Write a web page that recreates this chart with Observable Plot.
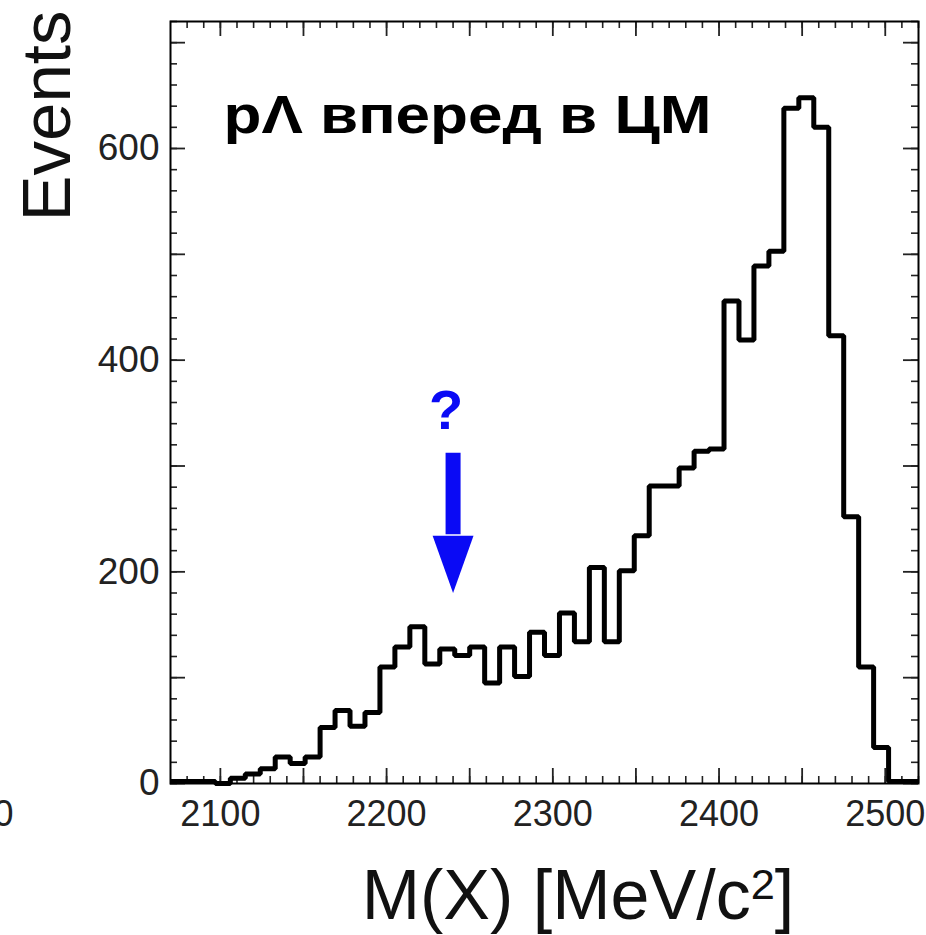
<!DOCTYPE html>
<html>
<head>
<meta charset="utf-8">
<script src="https://cdn.jsdelivr.net/npm/d3@7"></script>
<script src="https://cdn.jsdelivr.net/npm/@observablehq/plot@0.6"></script>
<style>
  html, body { margin: 0; padding: 0; background: white; }
</style>
</head>
<body>
<div id="chart"></div>
<script>
// Histogram: 50 bins of 9 MeV from 2070 to 2520 MeV/c^2
const binStart = 2070;
const binWidth = 9;
const counts = [2, 2, 2, 0, 5, 9, 14, 25, 19, 25,
                53, 69, 54, 67, 110, 129, 148, 113, 127, 121,
                129, 95, 129, 101, 143, 121, 161, 134, 204, 134,
                201, 234, 281, 281, 298, 314, 316, 456, 419, 489,
                503, 638, 648, 620, 423, 252, 110, 34, 2, 2];

// Axis ticks / labels
const xLabels = [2100, 2200, 2300, 2400, 2500];
const xMedium = [2100, 2150, 2200, 2250, 2300, 2350, 2400, 2450, 2500];
const xMinor = d3.range(2080, 2521, 10);
const yLabels = [0, 200, 400, 600];
const yMedium = [0, 100, 200, 300, 400, 500, 600, 700];
const yMinor = d3.range(0, 721, 20);

// Texts
const titleText = "pΛ вперед в ЦМ";
const yTitle = "Events";
const xTitleMain = "M(X) [MeV/c";
const xTitleSup = "2";
const xTitleEnd = "]";
const question = "?";
const strayLabel = "0";

// Annotation arrow (data units)
const arrowX = 2240;
const arrowTop = 312;
const arrowHeadBase = 234;
const arrowTip = 180;
const arrowHalfWidth = 12.3;
const questionY = 335;

const W = 926, H = 935;
const mL = 170, mR = 8, mT = 21, mB = 152;
const plotW = W - mL - mR, plotH = H - mT - mB;

const steps = counts.map((c, i) => ({x: binStart + i * binWidth, y: c}));
steps.push({x: binStart + counts.length * binWidth, y: counts[counts.length - 1]});

const headPts = [
  {x: arrowX - arrowHalfWidth, y: arrowHeadBase},
  {x: arrowX + arrowHalfWidth, y: arrowHeadBase},
  {x: arrowX, y: arrowTip}
];

const blue = "#0a0af5";
const tickColor = "#222";
const xTitleFull = xTitleMain + xTitleSup + xTitleEnd;

const plot = Plot.plot({
  width: W, height: H,
  marginLeft: mL, marginRight: mR, marginTop: mT, marginBottom: mB,
  style: {fontFamily: "Liberation Sans, Arial, sans-serif", background: "white"},
  x: {domain: [2070, 2520]},
  y: {domain: [0, 720]},
  marks: [
    // tick marks (inside, on all four sides)
    Plot.ruleX(xMinor, {insetTop: plotH - 7, stroke: tickColor, strokeWidth: 1.6}),
    Plot.ruleX(xMedium, {insetTop: plotH - 15, stroke: tickColor, strokeWidth: 1.8}),
    Plot.ruleX(xMinor, {insetBottom: plotH - 7, stroke: tickColor, strokeWidth: 1.6}),
    Plot.ruleX(xMedium, {insetBottom: plotH - 15, stroke: tickColor, strokeWidth: 1.8}),
    Plot.ruleY(yMinor, {insetRight: plotW - 7, stroke: tickColor, strokeWidth: 1.6}),
    Plot.ruleY(yMedium, {insetRight: plotW - 15, stroke: tickColor, strokeWidth: 1.8}),
    Plot.ruleY(yMinor, {insetLeft: plotW - 7, stroke: tickColor, strokeWidth: 1.6}),
    Plot.ruleY(yMedium, {insetLeft: plotW - 15, stroke: tickColor, strokeWidth: 1.8}),
    // axis labels
    Plot.axisX(xLabels, {tickSize: 0, tickPadding: 17, fontSize: 36, label: null, color: "#222",
                         tickFormat: d => String(d)}),
    Plot.axisY(yLabels, {tickSize: 0, tickPadding: 11, fontSize: 37, label: null, color: "#222",
                         tickFormat: d => String(d)}),
    // histogram outline
    Plot.line(steps, {x: "x", y: "y", curve: "step-after", stroke: "black", strokeWidth: 5,
                      strokeLinejoin: "miter", strokeLinecap: "butt"}),
    Plot.frame({stroke: "black", strokeWidth: 2}),
    // arrow
    Plot.ruleX([arrowX], {y1: arrowTop, y2: arrowHeadBase + 1, stroke: blue, strokeWidth: 15}),
    Plot.line(headPts, {x: "x", y: "y", fill: blue, stroke: "none"}),
    Plot.text([question], {x: arrowX, y: questionY, dx: -7, text: d => d, fontSize: 56, fontWeight: "bold",
                           fill: blue, lineAnchor: "bottom", textAnchor: "middle"}),
    // title in the frame
    Plot.text([titleText], {frameAnchor: "top-left", text: d => d, dx: 53, dy: 74, lineAnchor: "top",
                            textAnchor: "start", fontSize: 53, fontWeight: "bold", fill: "black"}),
    // axis titles
    Plot.text([yTitle], {frameAnchor: "left", text: d => d, rotate: -90, dx: -101, dy: -392,
                         textAnchor: "end", lineAnchor: "bottom", fontSize: 69, fill: "#111"}),
    Plot.text([xTitleFull], {frameAnchor: "bottom", text: d => d, dx: 33.5, dy: 135,
                         textAnchor: "middle", lineAnchor: "bottom", fontSize: 70, fill: "#111"}),
    // clipped label from a neighbouring panel
    Plot.text([strayLabel], {frameAnchor: "bottom-left", text: d => d, dx: -157, dy: 17,
                             textAnchor: "end", lineAnchor: "top", fontSize: 36, fill: "#222"})
  ]
});

d3.select(plot).selectAll("text")
  .filter(function() { return this.textContent === titleText; })
  .attr("textLength", 488)
  .attr("lengthAdjust", "spacingAndGlyphs");

// superscript for c^2 in the x title
d3.select(plot).selectAll("text")
  .filter(function() { return this.textContent === xTitleFull; })
  .each(function() {
    const t = d3.select(this);
    t.text(null);
    t.append("tspan").text(xTitleMain);
    t.append("tspan").attr("dy", "-0.45em").attr("font-size", "0.62em").text(xTitleSup);
    t.append("tspan").attr("dy", "0.28em").text(xTitleEnd);
  });

document.getElementById("chart").appendChild(plot);
</script>
</body>
</html>
